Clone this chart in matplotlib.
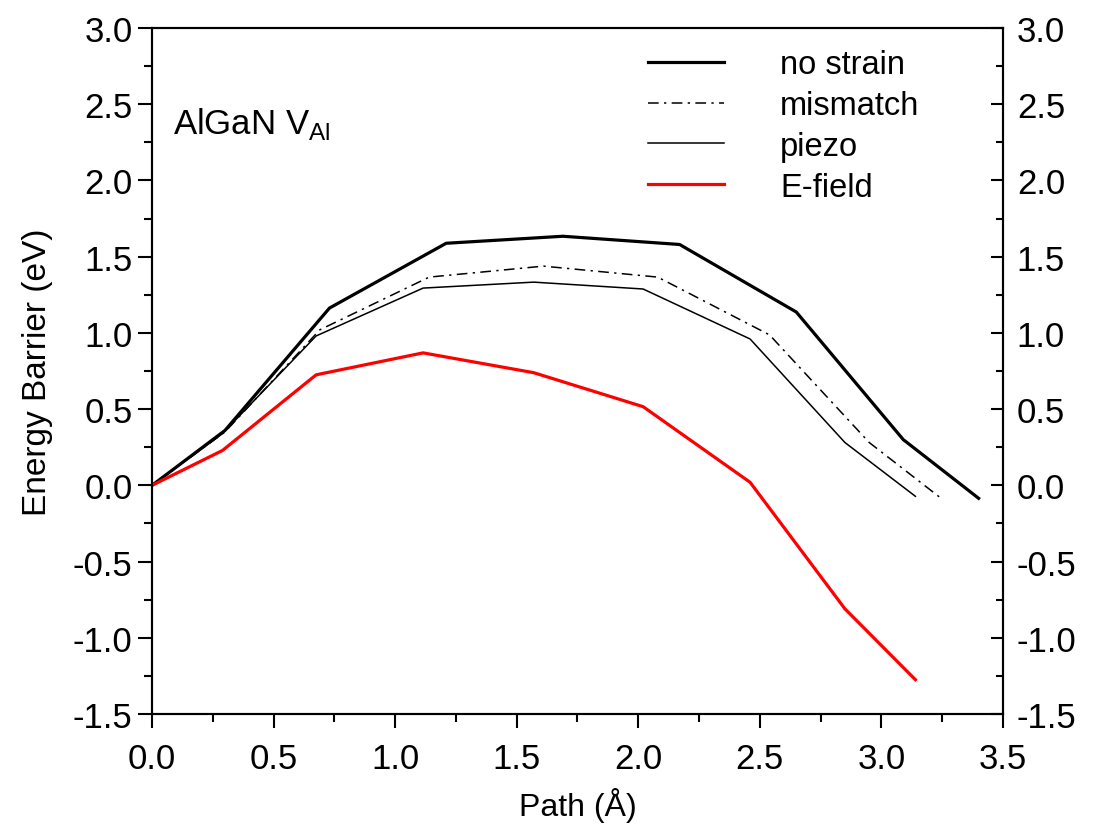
import matplotlib
matplotlib.use("Agg")
import matplotlib.pyplot as plt
from matplotlib.ticker import MultipleLocator, FormatStrFormatter

# path coordinates (Angstrom) and energy barriers (eV)
path_nostrain = [0.0, 0.30, 0.73, 1.21, 1.69, 2.17, 2.65, 3.09, 3.40]
e_nostrain = [0.0, 0.36, 1.163, 1.588, 1.634, 1.58, 1.137, 0.30, -0.085]

path_mismatch = [0.0, 0.30, 0.69, 1.14, 1.61, 2.08, 2.54, 2.95, 3.24]
e_mismatch = [0.0, 0.35, 1.02, 1.366, 1.438, 1.366, 0.987, 0.281, -0.078]

path_piezo = [0.0, 0.29, 0.675, 1.115, 1.57, 2.02, 2.46, 2.85, 3.14]
e_piezo = [0.0, 0.34, 0.98, 1.294, 1.333, 1.288, 0.96, 0.281, -0.072]

path_efield = [0.0, 0.29, 0.675, 1.115, 1.57, 2.02, 2.46, 2.85, 3.14]
e_efield = [0.0, 0.229, 0.725, 0.869, 0.739, 0.516, 0.02, -0.81, -1.275]

plt.rcParams['font.family'] = ['Liberation Sans', 'DejaVu Sans']
plt.rcParams['mathtext.fontset'] = 'custom'
plt.rcParams['mathtext.rm'] = 'Liberation Sans'

fig = plt.figure(figsize=(10.96, 8.29), dpi=100)
ax = fig.add_axes([0.1387, 0.1375, 0.7764, 0.8275])

ax.plot(path_nostrain, e_nostrain, color='black', lw=2.3, label='no strain')
ax.plot(path_mismatch, e_mismatch, color='black', lw=1.1,
        linestyle=(0, (7, 3.5, 1.5, 3.5)), label='mismatch')
ax.plot(path_piezo, e_piezo, color='black', lw=1.1, label='piezo')
ax.plot(path_efield, e_efield, color='red', lw=2.3, label='E-field')

ax.set_xlim(0, 3.5)
ax.set_ylim(-1.5, 3.0)
ax.xaxis.set_major_locator(MultipleLocator(0.5))
ax.xaxis.set_minor_locator(MultipleLocator(0.25))
ax.yaxis.set_major_locator(MultipleLocator(0.5))
ax.yaxis.set_minor_locator(MultipleLocator(0.25))
ax.xaxis.set_major_formatter(FormatStrFormatter('%.1f'))
ax.yaxis.set_major_formatter(FormatStrFormatter('%.1f'))

for s in ax.spines.values():
    s.set_linewidth(1.5)

ax.tick_params(which='major', direction='out', length=10, width=1.5,
               labelsize=25)
ax.tick_params(axis='x', which='major', pad=10)
ax.tick_params(axis='y', which='major', pad=4)
ax.tick_params(which='minor', direction='out', length=5.5, width=1.5)
ax.tick_params(top=False, right=False, which='both')

# right axis: same scale, ticks pointing inward
ax2 = ax.twinx()
ax2.set_ylim(ax.get_ylim())
ax2.yaxis.set_major_locator(MultipleLocator(0.5))
ax2.yaxis.set_minor_locator(MultipleLocator(0.25))
ax2.yaxis.set_major_formatter(FormatStrFormatter('%.1f'))
ax2.tick_params(which='major', direction='in', length=9, width=1.5,
                labelsize=25, pad=10)
ax2.tick_params(which='minor', direction='in', length=5, width=1.5)
for s in ax2.spines.values():
    s.set_linewidth(1.5)

ax.set_xlabel('Path (Å)', fontsize=23, labelpad=9)
ax.set_ylabel('Energy Barrier (eV)', fontsize=24, labelpad=14)

ax.text(0.086, 2.31, 'AlGaN V$_{\\mathregular{Al}}$', fontsize=25,
        va='baseline')

ax.legend(loc='upper left', bbox_to_anchor=(0.548, 1.012), frameon=False,
          fontsize=23.5, handlelength=2.33, handletextpad=1.72,
          labelspacing=0.3)

fig.savefig('out.png', dpi=100)
